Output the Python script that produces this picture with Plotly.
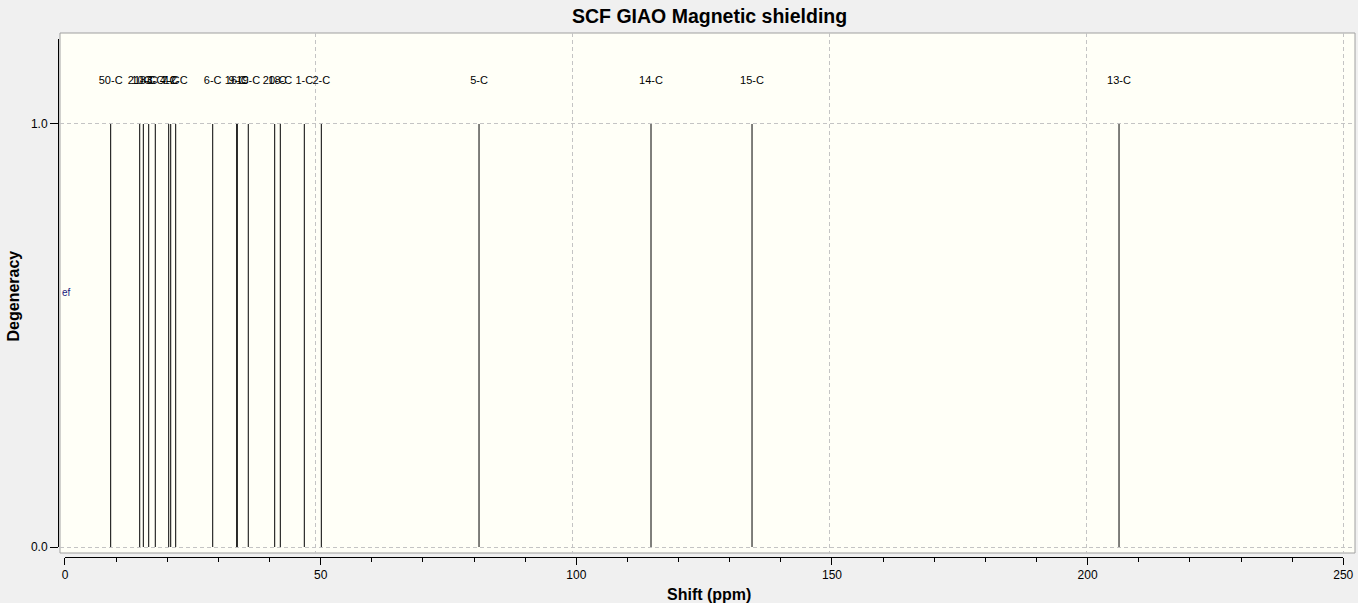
import plotly.graph_objects as go

desplazamientos = [10.19, 15.84, 16.54, 17.59, 18.87, 21.48, 21.87, 22.84, 30.04, 34.71,
                   34.82, 36.96, 42.10, 43.19, 47.86, 51.17, 81.85, 115.31, 134.96, 206.36]
# Degeneracion de cada pico
degeneracion = [1, 1, 1, 1, 1, 1, 1, 1, 1, 1,
                1, 1, 1, 1, 1, 1, 1, 1, 1, 1]
# Etiquetas de cada atomo
etiquetas = ["50-C", "21-C", "10-C", "8-C", "3-C", "4-C", "7-C", "12-C", "6-C", "16-C",
             "9-C", "19-C", "20-C", "18-C", "1-C", "2-C", "5-C", "14-C", "15-C", "13-C"]

# Ejes de ticks (separados del area de grafico, como en el original)
ticks_x = [0, 50, 100, 150, 200, 250]
ticks_y = [0, 1]

FONDO = "#f0f0f0"
FONDO_GRAFICO = "#fffff7"
GRILLA = "#c4c4c4"

# Armamos las lineas verticales (una por pico)
xs, ys = [], []
for x, d in zip(desplazamientos, degeneracion):
    xs += [x, x, None]
    ys += [0, d, None]

fig = go.Figure()
fig.add_trace(go.Scatter(x=xs, y=ys, mode="lines",
                         line=dict(color="black", width=1), hoverinfo="skip"))

# Etiquetas encima de cada pico
fig.add_trace(go.Scatter(x=desplazamientos, y=[d + 0.1 for d in degeneracion],
                         mode="text", text=etiquetas, textposition="middle center",
                         textfont=dict(family="Liberation Sans", size=11, color="black"),
                         hoverinfo="skip"))

# Traza invisible para que se dibujen los ejes de ticks
fig.add_trace(go.Scatter(x=[ticks_x[0], ticks_x[-1]], y=[0, 1.2], xaxis="x2", yaxis="y2",
                         mode="markers", marker=dict(opacity=0), hoverinfo="skip"))

grilla = dict(showgrid=True, gridcolor=GRILLA, gridwidth=1, griddash="4px,3px",
              zeroline=False, showticklabels=False, ticks="", showline=False,
              automargin=False)

fig.update_layout(
    width=1358, height=603,
    margin=dict(l=50, r=3, t=33, b=45, autoexpand=False),
    paper_bgcolor=FONDO,
    plot_bgcolor="rgba(0,0,0,0)",
    showlegend=False,
    font=dict(family="Liberation Sans", color="black"),
    xaxis=dict(domain=[0.00766, 1], range=[0.33, 252.27], dtick=50, tick0=0, **grilla),
    yaxis=dict(domain=[0.00952, 1], range=[-0.0142, 1.2151], dtick=1, tick0=0, **grilla),
    xaxis2=dict(domain=[0.011494, 0.99103], range=[0, 250], anchor="free", position=0.002,
                side="bottom", showgrid=False, zeroline=False, showline=True,
                linecolor="black", linewidth=1, ticks="outside", ticklen=7,
                tickcolor="black", tickvals=ticks_x, tickfont=dict(size=12),
                automargin=False,
                minor=dict(ticks="outside", ticklen=4, dtick=10, tick0=0,
                           tickcolor="black", showgrid=False)),
    yaxis2=dict(domain=[0.02095, 0.98857], range=[0, 1.2], anchor="free", position=0.00613,
                side="left", showgrid=False, zeroline=False, showline=True,
                linecolor="black", linewidth=1, ticks="outside", ticklen=8,
                tickcolor="black", tickvals=ticks_y, tickformat=".1f",
                tickfont=dict(size=12), automargin=False),
    shapes=[dict(type="rect", xref="paper", yref="paper", x0=0.00766, x1=1,
                 y0=0.00952, y1=1, fillcolor=FONDO_GRAFICO,
                 line=dict(color="#a0a0a0", width=1), layer="below")],
    annotations=[
        dict(text="<b>SCF GIAO Magnetic shielding</b>", xref="paper", yref="paper",
             x=0.505, y=1.0324, showarrow=False, xanchor="center", yanchor="middle",
             font=dict(size=19.5)),
        dict(text="<b>Shift (ppm)</b>", xref="paper", yref="paper",
             x=0.505, y=-0.0686, showarrow=False, xanchor="center", yanchor="middle",
             font=dict(size=16)),
        dict(text="<b>Degeneracy</b>", xref="paper", yref="paper",
             x=-0.0276, y=0.500, showarrow=False, xanchor="center", yanchor="middle",
             textangle=-90, font=dict(size=16)),
        dict(text="ef", xref="paper", yref="paper", x=0.00766, y=0.5048,
             showarrow=False, xanchor="left", yanchor="middle",
             font=dict(size=10, color="#1a1a80")),
    ],
)

# Quitamos el margen del body para que el grafico quede en (0, 0)
fig.write_html("out.html", config={"displayModeBar": False},
               post_script="document.body.style.margin='0';"
                           "document.body.style.background='#f0f0f0';")
